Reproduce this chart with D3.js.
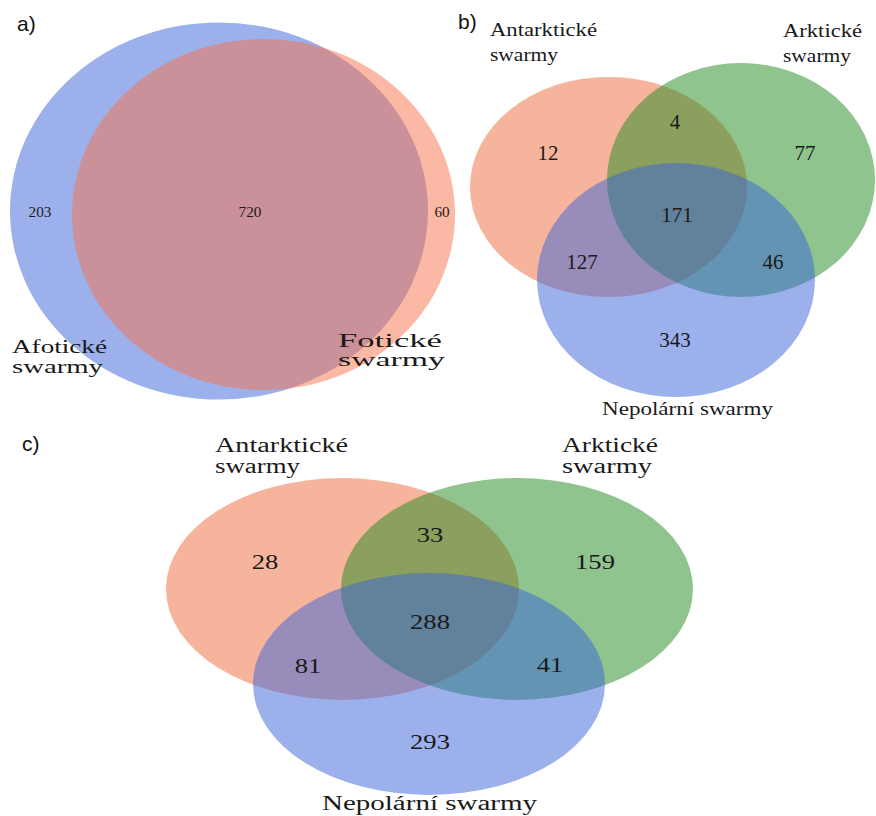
<!DOCTYPE html>
<html>
<head>
<meta charset="utf-8">
<script src="https://cdn.jsdelivr.net/npm/d3@7"></script>
<style>
  html, body { margin: 0; padding: 0; background: #ffffff; }
  svg { display: block; }
</style>
</head>
<body>
<svg id="chart" width="876" height="816"></svg>
<script>
// ---- Data -------------------------------------------------------------
const panelLetters = ["a)", "b)", "c)"];

// a) photic vs. aphotic swarms
const setsA = ["Afotické swarmy", "Fotické swarmy"];
const regionsA = ["Afotické", "Afotické ∩ Fotické", "Fotické"];
const countsA = [203, 720, 60];

// b) and c) Antarctic / Arctic / non-polar swarms
const setsBC = ["Antarktické swarmy", "Arktické swarmy", "Nepolární swarmy"];
const regionsBC = ["Ant", "Ant ∩ Ark", "Ark", "Ant ∩ Ark ∩ Nep", "Ant ∩ Nep", "Ark ∩ Nep", "Nep"];
const countsB = [12, 4, 77, 171, 127, 46, 343];
const countsC = [28, 33, 159, 288, 81, 41, 293];

// ---- Styling ----------------------------------------------------------
const setColor = {
  "Afotické swarmy": "rgb(58,100,215)",
  "Fotické swarmy": "rgb(248,114,74)",
  "Antarktické swarmy": "rgb(240,106,60)",
  "Arktické swarmy": "rgb(32,138,32)",
  "Nepolární swarmy": "rgb(58,100,215)"
};
const fillAlpha = 0.5;
const textColor = "#1a1a1a";
const serif = "'Liberation Serif', 'Times New Roman', serif";
const sans = "'Liberation Sans', Arial, sans-serif";

// ---- Panel layouts (panel-local pixel units) ---------------------------
const panels = [
  {
    letter: panelLetters[0], origin: [0, 0], size: [460, 410],
    letterPos: [17, 31],
    sets: setsA, counts: countsA, regions: regionsA,
    ellipses: [ [219, 211, 209, 188.5], [263.5, 214.5, 191.5, 175.5] ],
    countPos: [ [40, 212], [250, 212], [442, 212] ],
    countSize: 14.5, countStretch: 1.05,
    labelSize: 18,
    labels: [
      { lines: ["Afotické", "swarmy"], x: 12, y: [353, 373], w: [95, 91] },
      { lines: ["Fotické", "swarmy"], x: 338, y: [347, 366], w: [104, 107] }
    ]
  },
  {
    letter: panelLetters[1], origin: [455, 0], size: [421, 420],
    letterPos: [3, 29],
    sets: setsBC, counts: countsB, regions: regionsBC,
    ellipses: [ [153.5, 187, 138.5, 110], [286, 180, 134, 117], [221, 280, 139, 117] ],
    countPos: [ [93, 153], [220, 122], [350, 153], [222, 215], [127, 262], [318, 262], [220, 340] ],
    countSize: 20, countStretch: 1.05,
    labelSize: 18,
    labels: [
      { lines: ["Antarktické", "swarmy"], x: 35, y: [36, 61], w: [107, 68] },
      { lines: ["Arktické", "swarmy"], x: 328, y: [37, 62], w: [79, 68] },
      { lines: ["Nepolární swarmy"], x: 147, y: [415], w: [171] }
    ]
  },
  {
    letter: panelLetters[2], origin: [150, 420], size: [560, 396],
    letterPos: [-128, 31],
    sets: setsBC, counts: countsC, regions: regionsBC,
    ellipses: [ [192.5, 169, 176.5, 111], [367, 169, 176, 111], [279, 264, 176, 111] ],
    countPos: [ [115, 142], [280, 115], [445, 142], [280, 202], [158, 246], [400, 245], [280, 322] ],
    countSize: 20, countStretch: 1.33,
    labelSize: 20,
    labels: [
      { lines: ["Antarktické", "swarmy"], x: 65, y: [32, 53], w: [133, 85] },
      { lines: ["Arktické", "swarmy"], x: 412, y: [32, 53], w: [96, 90] },
      { lines: ["Nepolární swarmy"], x: 172, y: [390], w: [215] }
    ]
  }
];

// ---- Drawing ----------------------------------------------------------
const svg = d3.select("#chart");

panels.forEach(p => {
  const x = d3.scaleLinear().domain([0, p.size[0]]).range([p.origin[0], p.origin[0] + p.size[0]]);
  const y = d3.scaleLinear().domain([0, p.size[1]]).range([p.origin[1], p.origin[1] + p.size[1]]);
  const g = svg.append("g");

  // set ellipses, drawn in set order so later sets sit on top
  const shapes = p.sets.map((name, i) => ({ name, geom: p.ellipses[i] }));
  g.selectAll("ellipse")
    .data(shapes)
    .join("ellipse")
      .attr("cx", d => x(d.geom[0]))
      .attr("cy", d => y(d.geom[1]))
      .attr("rx", d => x(d.geom[2]) - x(0))
      .attr("ry", d => y(d.geom[3]) - y(0))
      .attr("fill", d => setColor[d.name])
      .attr("fill-opacity", fillAlpha);

  // region counts
  const cells = p.counts.map((v, i) => ({ value: v, region: p.regions[i], pos: p.countPos[i] }));
  g.selectAll("text.count")
    .data(cells)
    .join("text")
      .attr("class", "count")
      .attr("transform", d => `translate(${x(d.pos[0])},${y(d.pos[1])}) scale(${p.countStretch},1)`)
      .attr("text-anchor", "middle")
      .attr("dy", "0.34em")
      .attr("font-family", serif)
      .attr("font-size", p.countSize)
      .attr("fill", textColor)
      .text(d => d.value);

  // set labels
  const lines = [];
  p.labels.forEach(l => l.lines.forEach((t, k) => lines.push({ text: t, x: l.x, y: l.y[k], w: l.w[k] })));
  g.selectAll("text.label")
    .data(lines)
    .join("text")
      .attr("class", "label")
      .attr("x", d => x(d.x))
      .attr("y", d => y(d.y))
      .attr("textLength", d => d.w)
      .attr("lengthAdjust", "spacingAndGlyphs")
      .attr("font-family", serif)
      .attr("font-size", p.labelSize)
      .attr("fill", textColor)
      .text(d => d.text);

  // panel letter
  g.append("text")
    .attr("x", x(p.letterPos[0]))
    .attr("y", y(p.letterPos[1]))
    .attr("font-family", sans)
    .attr("font-size", 21)
    .attr("fill", "#111")
    .text(p.letter);
});
</script>
</body>
</html>
